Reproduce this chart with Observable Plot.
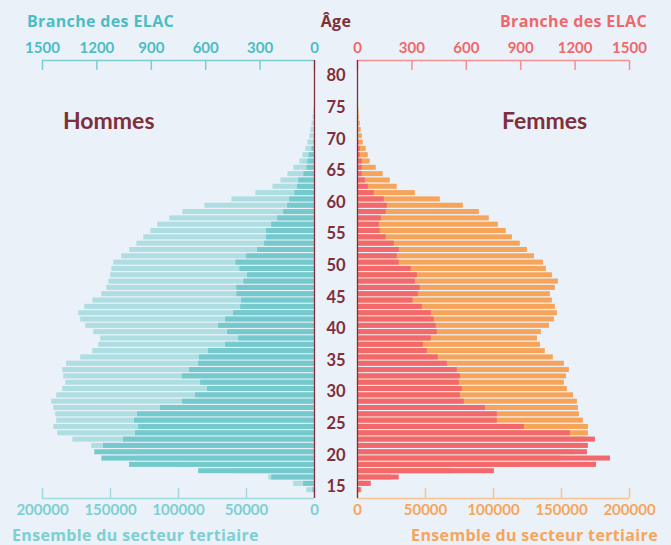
<!DOCTYPE html>
<html><head><meta charset="utf-8">
<script src="https://cdn.jsdelivr.net/npm/d3@7"></script>
<script src="https://cdn.jsdelivr.net/npm/@observablehq/plot@0.6"></script>
<style>
html,body{margin:0;padding:0;background:#eaf1f8;}
#chart{position:relative;width:671px;height:545px;background:#eaf1f8;overflow:hidden;font-family:Lato,"Open Sans",sans-serif;}
#chart svg{position:absolute;left:0;top:0;}
.lbl{position:absolute;font-weight:700;white-space:nowrap;line-height:1;}
.ttl{font-family:"Open Sans",sans-serif;font-size:16px;letter-spacing:0.35px;}
</style></head><body>
<div id="chart">
  <div class="lbl ttl" style="left:27px;top:13px;color:#4cbdc4">Branche des ELAC</div>
  <div class="lbl ttl" style="left:336px;top:13px;color:#7e2f3b;transform:translateX(-50%)">Âge</div>
  <div class="lbl ttl" style="right:24px;top:13px;color:#f0676c">Branche des ELAC</div>
  <div class="lbl ttl" style="left:12px;top:527px;color:#7dcfd3">Ensemble du secteur tertiaire</div>
  <div class="lbl ttl" style="right:13px;top:527px;color:#f7a55a">Ensemble du secteur tertiaire</div>
  <div class="lbl" style="left:63px;top:109px;font-size:23px;color:#7e2f3b">Hommes</div>
  <div class="lbl" style="left:502px;top:109px;font-size:23px;color:#7e2f3b">Femmes</div>
</div>
<script>
// Âge (chaque barre couvre [âge, âge+1])
const ages = [14,15,16,17,18,19,20,21,22,23,24,25,26,27,28,29,30,31,32,33,34,35,36,37,38,39,40,41,42,43,44,
  45,46,47,48,49,50,51,52,53,54,55,56,57,58,59,60,61,62,63,64,65,66,67,68,69,70,71,72,73,74];

// Hommes — Ensemble du secteur tertiaire
const hommesTertiaire = [5700,15300,33700,60000,100000,130000,150000,163800,177700,188800,191700,189500,190300,191700,193200,
  189500,185100,182900,184400,185100,182200,171900,163000,158600,157100,162300,168200,171900,173300,168900,163000,
  156400,152700,151200,149800,149000,147600,141700,135800,130600,125500,120300,115200,106400,96800,80600,60700,
  43100,30500,24700,19500,15100,10700,8500,6300,4800,3300,2600,1800,1100,500];
// Hommes — Branche des ELAC
const hommesElac = [10,60,236,639,1020,1173,1212,1164,1053,987,970,992,976,849,728,656,590,628,728,689,639,634,584,
  490,418,479,529,490,446,407,402,428,428,389,369,411,433,374,314,275,264,264,236,203,170,148,137,108,93,87,58,41,
  36,30,14,4,2,0,0,0,0];
// Femmes — Ensemble du secteur tertiaire
const femmesTertiaire = [3200,8000,25000,70000,120000,150000,160000,165000,168000,169800,169800,166100,163200,162400,
  161700,158800,154300,152100,153600,155800,152100,144000,138100,134500,132300,135200,141100,144800,147000,145500,
  143300,141800,145500,147700,143300,138900,136700,130100,124900,119700,113900,109400,103600,96900,89600,77800,
  60900,42500,29200,24100,18900,13800,9300,7900,6400,4200,3500,2700,2000,1300,1000];
// Femmes — Branche des ELAC
const femmesElac = [19,76,230,755,1318,1395,1268,1273,1312,1174,920,771,771,705,589,567,578,561,567,550,495,445,385,
  363,407,440,434,423,407,357,307,335,346,319,330,296,230,219,230,203,158,125,120,131,158,164,147,92,59,43,26,26,
  26,15,15,9,4,0,0,0,0];

const elacTicks = [0,300,600,900,1200,1500];
const tertTicks = [0,50000,100000,150000,200000];
const ageTicks = [15,20,25,30,35,40,45,50,55,60,65,70,75,80];

const C = {
  maroon:"#7e2f3b",
  tealDark:"#74c9cd", tealLight:"#aedde2",
  red:"#f2686c", orange:"#f7a45b",
  tealText:"#4cbdc4", tealAxis:"#7ccdd3",
  tealText2:"#7dcfd3", tealAxis2:"#9fdadf",
  redText:"#f0676c", redAxis:"#f29094",
  orangeText:"#f7a55a", orangeAxis:"#f8c391"
};

const W = 671, H = 545, MT = 60, MB = 47;
const PH = H - MT - MB;
const yDomain = [13.18, 82.48];
const left = {marginLeft:42, marginRight:357};
const right = {marginLeft:357, marginRight:42};
const fmt = d3.format("d");

const rowsOf = (vals) => ages.map((a, i) => ({age: a, value: vals[i]}));

function base(side, xdom, reverse, marks) {
  return Plot.plot({
    width: W, height: H, marginTop: MT, marginBottom: MB, ...side,
    style: {background: "transparent", fontFamily: "Lato, 'Open Sans', sans-serif", overflow: "visible"},
    x: {domain: xdom, reverse},
    y: {domain: yDomain},
    marks
  });
}

const bar = (vals, fill) => Plot.rectX(rowsOf(vals), {
  x: "value", y1: "age", y2: (d) => d.age + 1, fill, insetTop: 0.65, insetBottom: 0.65
});

const bottomAxis = (color, lineColor) => [
  Plot.axisX({anchor: "bottom", ticks: tertTicks, tickFormat: fmt, tickSize: 0, tickPadding: 6,
    fill: color, fontSize: 15, fontWeight: 700, label: null}),
  Plot.ruleY([yDomain[0]], {stroke: lineColor, strokeWidth: 1.5}),
  Plot.tickX(tertTicks, {x: (d) => d, stroke: lineColor, strokeWidth: 1.5, insetTop: PH - 10})
];
const topAxis = (color, lineColor) => [
  Plot.axisX({anchor: "top", ticks: elacTicks, tickFormat: fmt, tickSize: 0, tickPadding: 8,
    fill: color, fontSize: 15, fontWeight: 700, label: null}),
  Plot.ruleY([yDomain[1]], {stroke: lineColor, strokeWidth: 1.5}),
  Plot.tickX(elacTicks, {x: (d) => d, stroke: lineColor, strokeWidth: 1.5, insetBottom: PH - 10})
];
const noY = Plot.axisY({ticks: [], label: null, tickSize: 0});

const chart = document.getElementById("chart");
const first = chart.firstChild;

// Hommes — tertiaire (fond)
chart.insertBefore(base(left, [0, 200000], true, [
  bar(hommesTertiaire, C.tealLight),
  ...bottomAxis(C.tealText2, C.tealAxis2),
  Plot.axisY({anchor: "right", ticks: ageTicks, tickSize: 0, tickPadding: 21.5, textAnchor: "middle",
    fill: C.maroon, fontSize: 16.5, fontWeight: 700, label: null})
]), first);
// Hommes — ELAC (devant)
chart.insertBefore(base(left, [0, 1500], true, [
  bar(hommesElac, C.tealDark),
  ...topAxis(C.tealText, C.tealAxis),
  noY,
  Plot.ruleX([0], {stroke: C.maroon, strokeWidth: 1.3})
]), first);
// Femmes — tertiaire (fond)
chart.insertBefore(base(right, [0, 200000], false, [
  bar(femmesTertiaire, C.orange),
  ...bottomAxis(C.orangeText, C.orangeAxis),
  noY
]), first);
// Femmes — ELAC (devant)
chart.insertBefore(base(right, [0, 1500], false, [
  bar(femmesElac, C.red),
  ...topAxis(C.redText, C.redAxis),
  noY,
  Plot.ruleX([0], {stroke: C.maroon, strokeWidth: 1.3})
]), first);
</script>
</body></html>
